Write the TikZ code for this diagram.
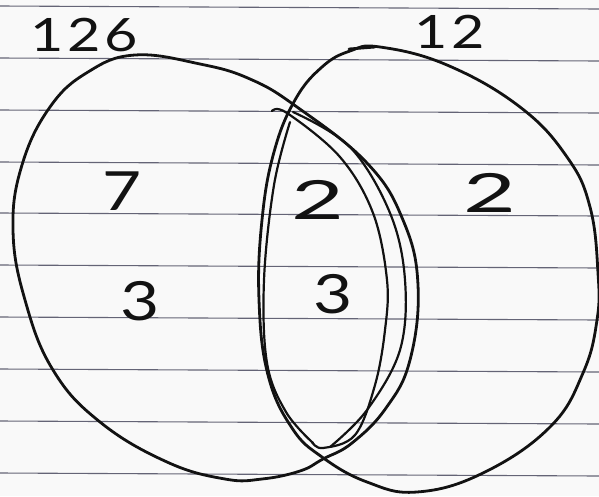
\documentclass[tikz,border=0pt]{standalone}
\usepackage{fontspec}
\setmainfont{Lato}
\definecolor{paper}{RGB}{249,249,249}
\definecolor{ruleline}{RGB}{100,100,118}
\definecolor{ink}{RGB}{18,18,18}
\begin{document}
\begin{tikzpicture}[x=1pt,y=-1pt,
  ruled/.style={line width=1.1pt,color=ruleline},
  pen/.style={line width=2.8pt,color=ink,line cap=round,line join=round},
  thinpen/.style={line width=2.2pt,color=ink,line cap=round,line join=round},
  digit/.style={font=\fontsize{54}{54}\selectfont,color=ink,inner sep=0pt,xscale=1.25},
  widedigit/.style={digit,xscale=1.35},
  label/.style={font=\fontsize{46}{46}\selectfont\addfontfeature{LetterSpace=6},color=ink,inner sep=0pt,xscale=1.25}]
\useasboundingbox (0,0) rectangle (599,496);
\fill[paper] (0,0) rectangle (599,496);
% ruled paper lines
\foreach \yy in {6,58,110,162,213,265,317,369,421,473}
  \draw[ruled] (0,\yy) -- (599,\yy+3);
% left ellipse
\draw[pen] plot[smooth cycle,tension=0.7] coordinates {
 (323,459) (300,471) (262,479) (225,479) (167,462) (100,422) (53,370) (25,300) (13,230)
 (22,165) (50,107) (88,72) (135,55) (200,64) (250,79) (297,107) (367,163)
 (403,220) (418,285) (410,360) (386,408) (352,443)};
% right circle
\draw[pen] plot[smooth cycle,tension=0.7] coordinates {
 (322,457) (292,428) (268,375) (259,300) (262,220) (274,152) (295,100)
 (322,67) (350,51) (380,47) (447,65) (520,107) (567,157) (590,207) (598,273)
 (597,320) (583,373) (550,427) (483,473) (417,492) (367,482)};
% tail at top of right circle
\draw[pen] (349,49) -- (375,47);
% extra strokes of the lens
\draw[thinpen] plot[smooth,tension=0.6] coordinates {
 (293,112) (350,147) (390,213) (405,280) (400,350) (367,410) (330,447)};
\draw[thinpen] plot[smooth,tension=0.6] coordinates {
 (272,111) (287,113) (340,157) (373,213) (387,280) (385,330) (375,385) (355,435) (323,448) (312,442)};
\draw[thinpen] plot[smooth,tension=0.6] coordinates {
 (290,122) (274,185) (264,280) (267,363) (286,412) (313,443)};
% labels
\node[label] (t126) at (84,35) {126};
\node[label] (t12) at (450,32) {12};
\node[digit] (n7) at (122,191) {7};
\node[digit] (n3a) at (140,301) {3};
\node[widedigit] (n2a) at (318,200) {2};
\node[digit] (n3b) at (333,294) {3};
\node[widedigit] (n2b) at (490,193) {2};
\end{tikzpicture}
\end{document}
